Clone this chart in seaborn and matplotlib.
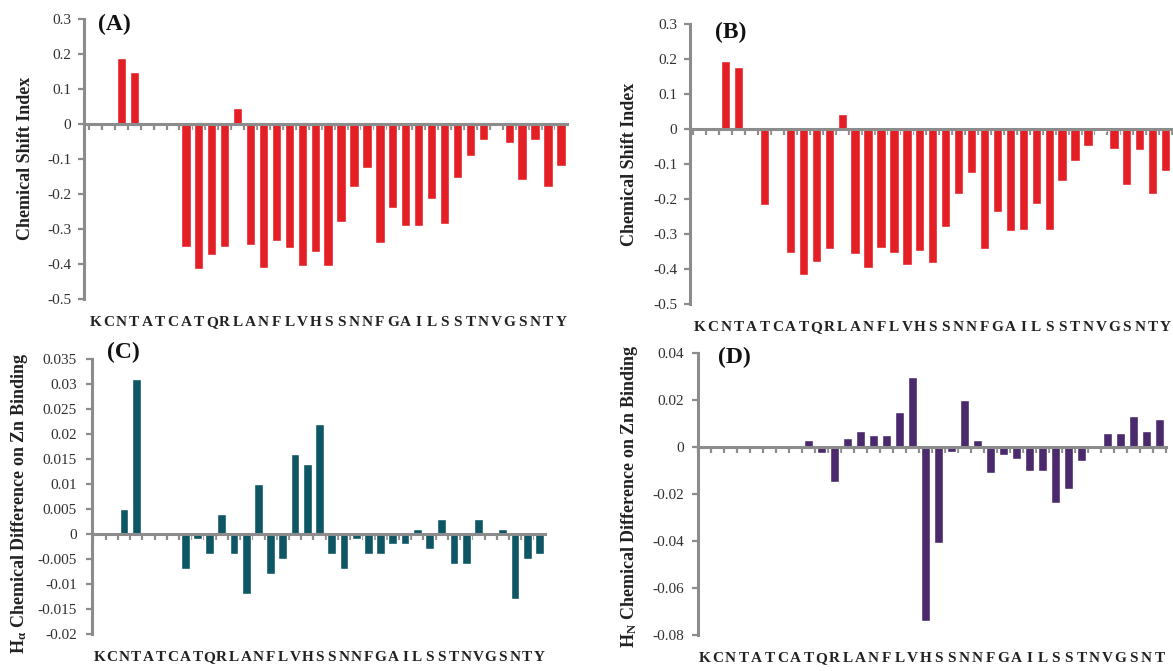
import numpy as np
import pandas as pd
import seaborn as sns
import matplotlib.pyplot as plt
from matplotlib.ticker import FixedLocator

sns.set_style("white")
plt.rcParams['font.family'] = ['Liberation Serif', 'DejaVu Serif']
plt.rcParams['axes.unicode_minus'] = False
plt.rcParams['mathtext.fontset'] = 'custom'
plt.rcParams['mathtext.rm'] = 'Liberation Serif:bold'
plt.rcParams['mathtext.it'] = 'Liberation Serif:bold'
plt.rcParams['mathtext.default'] = 'rm'

# amylin sequence, one bar slot per residue
residues = list("KCNTATCATQRLANFLVHSSNNFGAILSSTNVGSNTY")

# (A) and (B) chemical shift index
csi_a = [0, 0, 0.188, 0.148, 0, 0, 0, -0.35, -0.415, -0.375, -0.35, 0.045,
         -0.345, -0.41, -0.335, -0.355, -0.405, -0.365, -0.405, -0.28, -0.18,
         -0.125, -0.34, -0.24, -0.29, -0.29, -0.215, -0.285, -0.155, -0.09,
         -0.045, -0.005, -0.055, -0.16, -0.045, -0.18, -0.12]
csi_b = [0, 0, 0.194, 0.177, 0, -0.218, 0, -0.353, -0.418, -0.379, -0.343, 0.043,
         -0.358, -0.396, -0.339, -0.354, -0.389, -0.349, -0.383, -0.28, -0.185,
         -0.127, -0.343, -0.238, -0.291, -0.288, -0.214, -0.288, -0.148, -0.092,
         -0.049, -0.005, -0.057, -0.159, -0.06, -0.185, -0.121]

# (C) H-alpha and (D) H-N chemical shift difference on Zn binding
ha_diff = [0, 0, 0.005, 0.031, 0, 0, 0, -0.007, -0.001, -0.004, 0.004, -0.004,
           -0.012, 0.010, -0.008, -0.005, 0.016, 0.014, 0.022, -0.004, -0.007,
           -0.001, -0.004, -0.004, -0.002, -0.002, 0.001, -0.003, 0.003, -0.006,
           -0.006, 0.003, 0, 0.001, -0.013, -0.005, -0.004]
hn_diff = [0, 0, 0, 0, 0, 0, 0, -0.001, 0.003, -0.0025, -0.015, 0.004,
           0.007, 0.005, 0.005, 0.015, 0.030, -0.074, -0.041, -0.002, 0.020,
           0.003, -0.011, -0.0035, -0.005, -0.010, -0.010, -0.024, -0.018, -0.006,
           -0.001, 0.006, 0.006, 0.013, 0.007, 0.012]
residues_d = residues[:len(hn_diff)]  # last residue is cut off in panel D

yticks_ab = [0.3, 0.2, 0.1, 0, -0.1, -0.2, -0.3, -0.4, -0.5]
yticks_c = [0.035, 0.03, 0.025, 0.02, 0.015, 0.01, 0.005, 0, -0.005, -0.01, -0.015, -0.02]
yticks_d = [0.04, 0.02, 0, -0.02, -0.04, -0.06, -0.08]

red = '#e31e24'
teal = '#0e5664'
purple = '#4a2a6c'
gray = '#8c8c8c'
W, H = 1173, 671


def px_axes(fig, left, top, right, bottom):
    return fig.add_axes([left / W, 1 - bottom / H, (right - left) / W, (bottom - top) / H])


def panel(ax, values, labels, color, yticks, xlim, ylabel, label_xy, tick_pad):
    df = pd.DataFrame({'pos': np.arange(len(values)), 'val': values})
    sns.barplot(data=df, x='pos', y='val', color=color, saturation=1, width=0.72,
                ax=ax, zorder=2)
    ax.set_xlim(*xlim)
    ax.set_ylim(yticks[-1], yticks[0])
    ax.set_axisbelow(True)
    for s in ['top', 'right']:
        ax.spines[s].set_visible(False)
    ax.spines['bottom'].set_position(('data', 0))
    ax.spines['bottom'].set_zorder(3)
    for s in ['bottom', 'left']:
        ax.spines[s].set_color(gray)
        ax.spines[s].set_linewidth(2.2)
    ax.xaxis.set_major_locator(FixedLocator(np.arange(len(values))))
    ax.xaxis.set_minor_locator(FixedLocator(np.arange(len(values) + 1) - 0.5))
    ax.tick_params(axis='x', which='major', length=0, labelbottom=False)
    ax.tick_params(axis='x', which='minor', bottom=True, length=4, width=1.6,
                   color=gray, direction='out')
    ax.set_yticks(yticks, labels=[f"{v:g}" for v in yticks])
    ax.tick_params(axis='y', left=True, length=4, width=1.6, color=gray, direction='out',
                   labelsize=11, labelcolor='#303030', pad=tick_pad)
    ax.set_xlabel('')
    ax.set_ylabel(ylabel, fontsize=13, fontweight='bold', color='#222222')
    ax.yaxis.set_label_coords(*label_xy)
    sec = ax.secondary_xaxis(0.0)
    sec.set_xticks(np.arange(len(values)), labels=labels)
    sec.tick_params(length=0, pad=12, labelsize=11)
    for t in sec.get_xticklabels():
        t.set_fontweight('bold')
        t.set_color('#222222')
    sec.spines['bottom'].set_visible(False)


fig = plt.figure(figsize=(W / 100, H / 100), dpi=100)

ax_a = px_axes(fig, 84, 19, 567, 299)
panel(ax_a, csi_a, residues, red, yticks_ab, (-0.88, 36.47),
      'Chemical Shift Index', (-0.104, 0.504), 5)

ax_b = px_axes(fig, 690, 24, 1173, 304)
panel(ax_b, csi_b, residues, red, yticks_ab, (-0.76, 36.57),
      'Chemical Shift Index', (-0.107, 0.5), 5)

ax_c = px_axes(fig, 92, 359, 545, 634)
panel(ax_c, ha_diff, residues, teal, yticks_c, (-0.62, 36.45),
      r'H$_{\alpha}$ Chemical Difference on Zn Binding', (-0.137, 0.473), 7)

ax_d = px_axes(fig, 698, 353, 1166, 635)
panel(ax_d, hn_diff, residues_d, purple, yticks_d, (-0.5, 35.5),
      r'H$_{N}$ Chemical Difference on Zn Binding', (-0.124, 0.493), 6)

for txt, x, y in [('(A)', 98, 24), ('(B)', 715, 32), ('(C)', 107, 352), ('(D)', 718, 357)]:
    fig.text(x / W, 1 - y / H, txt, fontsize=17, fontweight='bold', va='center', ha='left',
             color='#111111')

fig.savefig('out.png', dpi=100)
